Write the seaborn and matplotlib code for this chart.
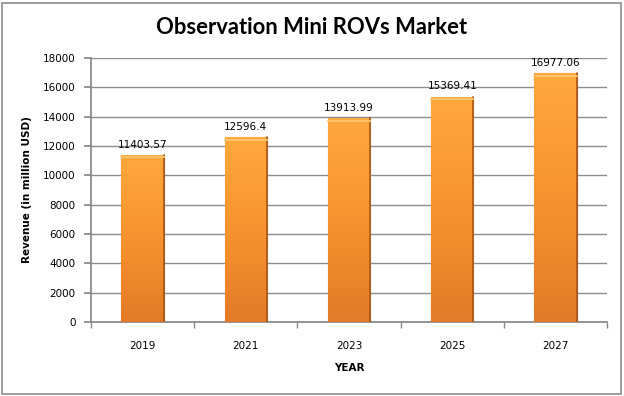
import numpy as np
import pandas as pd
import matplotlib
matplotlib.use("Agg")
import matplotlib.pyplot as plt
import seaborn as sns
from matplotlib.colors import LinearSegmentedColormap

years = ["2019", "2021", "2023", "2025", "2027"]
revenue = [11403.57, 12596.4, 13913.99, 15369.41, 16977.06]
value_labels = ["11403.57", "12596.4", "13913.99", "15369.41", "16977.06"]
yticks = [0, 2000, 4000, 6000, 8000, 10000, 12000, 14000, 16000, 18000]

sns.set_theme(style="white")
plt.rcParams["font.family"] = ["DejaVu Sans"]
plt.rcParams["text.color"] = "black"
plt.rcParams["axes.labelcolor"] = "black"
plt.rcParams["xtick.color"] = "black"
plt.rcParams["ytick.color"] = "black"

df = pd.DataFrame({"year": years, "revenue": revenue})

fig = plt.figure(figsize=(6.24, 3.96), dpi=100)
ax = fig.add_axes([91 / 624, 1 - 322 / 396, 516 / 624, 264 / 396])

sns.barplot(data=df, x="year", y="revenue", color="#F7922E", width=0.41,
            edgecolor="#B4601A", linewidth=0.8, ax=ax, zorder=3)

# vertical gradient inside each bar (lighter top, darker bottom)
cmap = LinearSegmentedColormap.from_list("orng", ["#E27A28", "#F28B2C", "#FB9A33", "#FFA83E"])
grad = np.linspace(0, 1, 256).reshape(-1, 1)
for p in ax.patches:
    x0, y0 = p.get_x(), p.get_y()
    w, h = p.get_width(), p.get_height()
    im = ax.imshow(grad, extent=[x0, x0 + w, y0, y0 + h], origin="lower",
                   aspect="auto", cmap=cmap, zorder=3.5)
    im.set_clip_path(p)
    # darker right edge and light top cap
    ax.plot([x0 + w, x0 + w], [y0, y0 + h], color="#A9571A", lw=1.2, zorder=4)
    ax.plot([x0, x0 + w], [y0 + h - 180, y0 + h - 180], color="#FFC46A", lw=1.5, zorder=4)

for i, (v, lab) in enumerate(zip(revenue, value_labels)):
    ax.text(i, v + 350, lab, ha="center", va="bottom", fontsize=7.5, color="black", zorder=5)

ax.set_xlim(-0.5, len(years) - 0.5)
ax.set_ylim(0, 18000)
ax.set_yticks(yticks)
ax.set_yticklabels([str(t) for t in yticks], fontsize=7.5)
ax.tick_params(axis="x", length=0, labelsize=7.5, pad=14)
ax.tick_params(axis="y", length=5, color="#888888", direction="out", pad=6, left=True)
# category boundary ticks on x axis
ax.set_xticks(np.arange(-0.5, len(years) + 0.5, 1), minor=True)
ax.tick_params(axis="x", which="minor", length=4, color="#888888", bottom=True, direction="out")

ax.yaxis.grid(True, color="#8C8C8C", lw=1)
ax.set_axisbelow(True)
for s in ["top", "right"]:
    ax.spines[s].set_visible(False)
ax.spines["left"].set_color("#888888")
ax.spines["bottom"].set_color("#888888")

ax.set_xlabel("YEAR", fontsize=7.5, fontweight="bold", labelpad=8)
ax.set_ylabel("Revenue (in million USD)", fontsize=7.5, fontweight="bold", labelpad=8)

fig.text(0.5, 1 - 28 / 396, "Observation Mini ROVs Market", ha="center", va="center",
         fontsize=15.8, fontweight="bold", color="black", family=["Lato", "DejaVu Sans"])

# chart border
fig.patches.append(plt.Rectangle((2 / 624, 2 / 396), 619 / 624, 391 / 396, transform=fig.transFigure,
                                 fill=False, edgecolor="#8C8C8C", lw=1.2))

fig.savefig("out.png", dpi=100)
